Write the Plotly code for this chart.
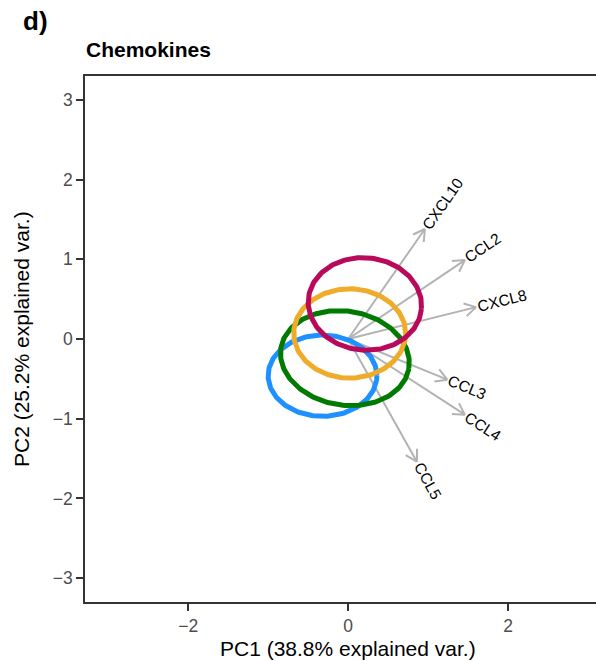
import numpy as np
import plotly.graph_objects as go

# ---- data ----
var_names = ["CXCL10", "CCL2", "CXCL8", "CCL3", "CCL4", "CCL5"]
var_pc1 = [0.96, 1.46, 1.60, 1.24, 1.46, 0.86]
var_pc2 = [1.38, 0.99, 0.40, -0.51, -0.95, -1.54]

grp_colors = ["#1E90FF", "#007A00", "#EFAB2A", "#B8095A"]
grp_cx = [-0.32, -0.04, 0.02, 0.21]
grp_cy = [-0.46, -0.24, 0.07, 0.44]
grp_a = [0.68, 0.81, 0.70, 0.71]
grp_b = [0.51, 0.59, 0.56, 0.58]
grp_rot = [0.0, -9.0, 0.0, -5.0]

x_ticks = [-2, 0, 2]
y_ticks = [-3, -2, -1, 0, 1, 2, 3]

# ---- layout constants ----
W, H = 596, 661
ML, MR, MT, MB = 85, 0, 76, 59
xr = [-3.29, 3.10]
yr = [-3.30, 3.30]
sx = (W - ML - MR) / (xr[1] - xr[0])
sy = (H - MT - MB) / (yr[1] - yr[0])
FONT = "Liberation Sans, Arial, Helvetica"

fig = go.Figure()

# arrows (shaft + open head)
ax_x, ax_y = [], []
head_len = 13.0
head_ang = np.deg2rad(30)
for vx, vy in zip(var_pc1, var_pc2):
    ax_x += [0, vx, None]
    ax_y += [0, vy, None]
    dx, dy = vx * sx, vy * sy
    ang = np.arctan2(dy, dx)
    for s in (1, -1):
        a2 = ang + np.pi + s * head_ang
        ax_x += [vx + head_len * np.cos(a2) / sx, vx, None]
        ax_y += [vy + head_len * np.sin(a2) / sy, vy, None]
fig.add_trace(go.Scatter(x=ax_x, y=ax_y, mode="lines",
                         line=dict(color="#B3B3B3", width=2),
                         hoverinfo="skip", showlegend=False))

# ellipses
t = np.linspace(0, 2 * np.pi, 200)
for c, cx, cy, a, b, r in zip(grp_colors, grp_cx, grp_cy, grp_a, grp_b, grp_rot):
    th = np.deg2rad(r)
    ex = cx + a * np.cos(t) * np.cos(th) - b * np.sin(t) * np.sin(th)
    ey = cy + a * np.cos(t) * np.sin(th) + b * np.sin(t) * np.cos(th)
    fig.add_trace(go.Scatter(x=ex, y=ey, mode="lines",
                             line=dict(color=c, width=5),
                             hoverinfo="skip", showlegend=False))

# variable labels
fs = 15.5
char_em = {"C": 0.722, "X": 0.667, "L": 0.556}
for name, vx, vy in zip(var_names, var_pc1, var_pc2):
    w = sum(char_em.get(ch, 0.556) for ch in name) * fs
    dx, dy = vx * sx, vy * sy
    ang = np.arctan2(dy, dx)
    off = 2 + w / 2
    lx = vx + off * np.cos(ang) / sx
    ly = vy + off * np.sin(ang) / sy
    fig.add_annotation(x=lx, y=ly, text=name, showarrow=False,
                       textangle=-np.rad2deg(ang), xanchor="center", yanchor="middle",
                       font=dict(family=FONT, size=fs, color="black"))

def px_to_paper(px, py):
    return (px - ML) / (W - ML - MR), (H - MB - py) / (H - MT - MB)

# panel tag and title
x0, y0 = px_to_paper(21, 21)
fig.add_annotation(xref="paper", yref="paper", x=x0, y=y0, text="<b>d)</b>",
                   showarrow=False, xanchor="left", yanchor="middle",
                   font=dict(family=FONT, size=26, color="black"))
x0, y0 = px_to_paper(84, 49)
fig.add_annotation(xref="paper", yref="paper", x=x0, y=y0, text="<b>Chemokines</b>",
                   showarrow=False, xanchor="left", yanchor="middle",
                   font=dict(family=FONT, size=21, color="black"))
# axis titles
x0, y0 = px_to_paper(348, 648)
fig.add_annotation(xref="paper", yref="paper", x=x0, y=y0,
                   text="PC1 (38.8% explained var.)", showarrow=False,
                   xanchor="center", yanchor="middle",
                   font=dict(family=FONT, size=21, color="black"))
x0, y0 = px_to_paper(21, 339)
fig.add_annotation(xref="paper", yref="paper", x=x0, y=y0,
                   text="PC2 (25.2% explained var.)", showarrow=False, textangle=-90,
                   xanchor="center", yanchor="middle",
                   font=dict(family=FONT, size=21, color="black"))

axis_common = dict(showgrid=False, zeroline=False, showline=True, linecolor="#333333",
                   linewidth=1.6, ticks="outside", ticklen=7, tickwidth=1.6,
                   tickcolor="#333333",
                   tickfont=dict(family=FONT, size=17.5, color="#4D4D4D"))
fig.update_xaxes(range=xr, tickvals=x_ticks, mirror=True, **axis_common)
fig.update_yaxes(range=yr, tickvals=y_ticks, **axis_common)

fig.update_layout(width=W, height=H, margin=dict(l=ML, r=MR, t=MT, b=MB),
                  plot_bgcolor="white", paper_bgcolor="white", showlegend=False)

fig.write_html("out.html", config={"displayModeBar": False},
               post_script="document.body.style.margin='0';document.body.style.overflow='hidden';")
